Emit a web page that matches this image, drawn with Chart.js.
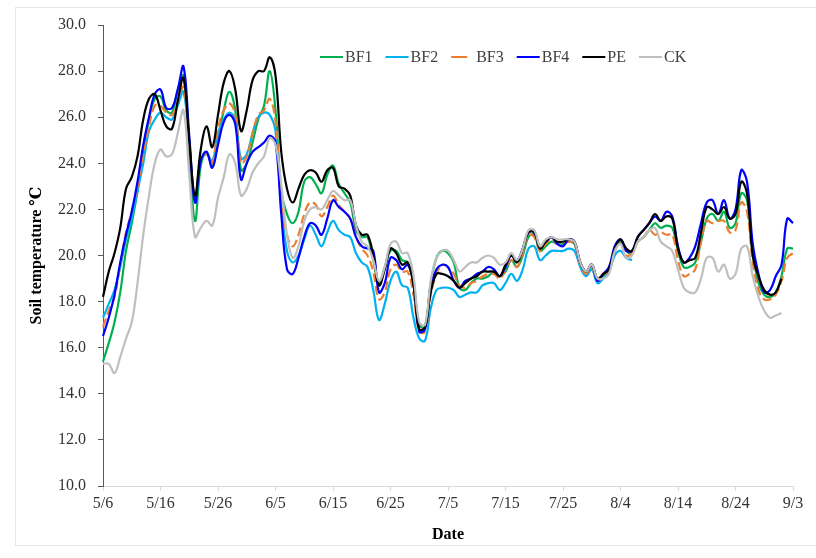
<!DOCTYPE html>
<html>
<head>
<meta charset="utf-8">
<script src="https://cdn.jsdelivr.net/npm/chart.js@4.4.0/dist/chart.umd.min.js"></script>
<style>
  html, body { margin: 0; padding: 0; background: #fff; }
  #wrap { position: relative; width: 816px; height: 558px; }
</style>
</head>
<body>
<div id="wrap"><canvas id="chart"></canvas></div>
<script>
// daily categories 5/6 .. 9/3
const dates = [];
for (let d = new Date(2020, 4, 6); d <= new Date(2020, 8, 3); d.setDate(d.getDate() + 1)) {
  dates.push((d.getMonth() + 1) + '/' + d.getDate());
}

const seriesNames = ['BF1', 'BF2', 'BF3', 'BF4', 'PE', 'CK'];
const seriesColors = ['#00B050', '#00B0F0', '#ED7D31', '#0000FF', '#000000', '#BFBFBF'];

const bf1 = [15.4,16.2,17.1,18.4,20.2,21.4,22.8,24.4,25.9,26.8,
  26.9,26.3,26.2,27.2,27.8,24.5,21.5,23.9,24.5,23.9,
  25.0,26.3,27.1,26.3,23.7,24.0,24.9,25.9,26.5,28.0,
  26.3,22.8,21.8,21.4,21.9,23.2,23.4,23.1,22.7,23.5,
  23.9,23.1,22.7,22.3,21.1,20.8,20.8,19.8,18.8,19.5,
  20.2,20.2,19.8,19.7,18.8,17.0,16.9,18.8,19.9,20.2,
  20.1,19.7,18.6,18.5,18.8,19.0,19.0,19.1,19.3,19.1,
  19.3,19.8,19.5,20.0,20.8,20.9,20.2,20.4,20.6,20.5,
  20.5,20.6,20.5,19.6,19.2,19.6,19.0,19.1,19.4,20.2,
  20.6,20.2,20.1,20.6,20.8,21.1,21.4,21.2,21.3,21.2,
  20.2,19.5,19.5,19.7,20.6,21.6,21.8,21.5,21.9,21.2,
  21.4,22.7,22.4,20.1,18.8,18.3,18.2,18.4,19.1,20.3,20.3];

const bf2 = [17.3,17.9,18.5,19.5,20.7,21.6,22.8,24.0,25.4,25.9,
  26.2,26.0,25.9,26.5,27.1,24.8,22.5,24.1,24.4,24.1,
  25.3,25.9,26.2,25.9,24.2,24.4,25.3,26.0,26.2,26.1,
  25.4,22.2,20.2,19.7,20.0,20.7,21.3,20.9,20.4,21.0,
  21.5,21.1,20.9,20.8,20.1,19.7,19.5,18.5,17.2,17.9,
  18.9,19.3,18.7,18.6,17.3,16.4,16.3,17.7,18.5,18.6,
  18.6,18.5,18.2,18.3,18.4,18.4,18.7,18.8,18.8,18.5,
  18.8,19.2,18.9,19.4,20.3,20.4,19.8,20.0,20.2,20.2,
  20.2,20.3,20.2,19.5,19.1,19.4,18.8,19.0,19.3,20.0,
  20.2,19.9,19.8,null,null,null,null,null,null,null,
  null,null,null,null,null,null,null,null,null,null,
  null,null,null,null,null,null,null,null,null,null,null];

const bf3 = [16.9,17.6,18.2,19.6,21.0,21.9,23.0,24.3,25.6,26.5,
  26.5,26.2,26.1,26.7,27.3,24.8,22.4,24.2,24.4,24.0,
  25.5,26.3,26.6,26.1,24.0,24.3,25.3,26.1,26.3,26.8,
  25.8,22.6,20.9,20.4,20.9,21.8,22.3,22.2,21.7,22.1,
  22.6,22.2,21.9,21.6,20.8,20.3,20.0,19.3,18.1,18.4,
  19.4,19.6,19.3,19.3,18.3,16.7,16.7,18.3,19.2,19.6,
  19.5,19.2,18.7,18.6,18.8,18.9,19.1,19.2,19.2,19.0,
  19.4,19.8,19.5,20.1,20.9,20.8,20.2,20.5,20.7,20.5,
  20.5,20.6,20.5,19.6,19.2,19.5,18.9,19.1,19.4,20.2,
  20.6,20.0,20.1,20.6,20.8,21.1,20.9,21.0,20.9,20.9,
  19.8,19.1,19.2,19.4,20.6,21.5,21.4,21.5,21.5,21.0,
  21.1,22.3,21.9,19.7,18.5,18.1,18.1,18.3,18.9,19.9,20.1];

const bf4 = [16.5,17.3,18.3,19.7,20.9,21.9,23.2,24.8,26.0,27.0,
  27.2,26.4,26.4,27.2,28.2,25.2,22.3,24.1,24.5,23.8,
  24.8,25.8,26.1,25.7,23.3,24.0,24.5,24.7,24.9,25.2,
  24.9,21.8,19.4,19.2,19.9,20.8,21.4,21.3,20.9,21.6,
  22.4,22.1,21.9,21.6,20.8,20.4,20.3,20.2,18.4,18.8,
  19.9,19.8,19.4,19.6,18.8,16.7,16.8,18.7,19.4,19.6,
  19.5,18.9,18.6,18.9,19.0,19.2,19.3,19.5,19.4,19.1,
  19.5,20.0,19.8,20.3,21.0,21.0,20.4,20.6,20.8,20.5,
  20.4,20.7,20.6,19.7,19.3,19.6,18.9,19.2,19.5,20.4,
  20.7,20.2,20.2,20.8,21.1,21.4,21.7,21.5,21.9,21.7,
  20.4,19.7,19.9,20.4,21.4,22.3,22.4,21.8,22.4,21.6,
  22.0,23.7,23.2,20.5,19.2,18.4,18.5,19.1,19.6,21.6,21.4];

const pe = [18.2,19.3,20.1,21.2,22.9,23.4,24.3,25.9,26.8,27.0,
  26.3,25.6,25.5,26.7,27.7,25.0,22.6,24.6,25.6,24.7,
  26.1,27.5,28.0,27.2,25.4,26.3,27.6,28.0,28.0,28.6,
  27.8,24.5,22.9,22.3,22.9,23.5,23.7,23.6,23.2,23.7,
  23.8,23.0,22.9,22.6,21.3,20.9,20.9,20.0,18.7,19.4,
  20.3,20.1,19.6,19.7,18.7,16.8,16.9,18.4,19.2,19.2,
  19.1,18.9,18.6,18.8,19.0,19.1,19.3,19.3,19.3,19.1,
  19.6,20.0,19.7,20.3,21.0,21.0,20.3,20.6,20.8,20.6,
  20.6,20.7,20.6,19.7,19.3,19.6,19.0,19.2,19.4,20.3,
  20.7,20.3,20.2,20.8,21.1,21.4,21.8,21.5,21.7,21.6,
  20.3,19.7,19.8,19.9,21.0,22.1,22.0,21.8,22.1,21.6,
  21.8,23.2,22.7,20.0,19.1,18.5,18.3,18.4,19.0,null,null];

const ck = [15.3,15.3,14.9,15.6,16.4,17.1,18.8,20.9,22.6,24.0,
  24.6,24.3,24.4,25.3,26.3,23.5,20.8,21.2,21.5,21.3,
  22.5,23.4,24.4,24.0,22.6,22.9,23.6,24.0,24.3,25.1,
  24.8,23.1,20.9,19.9,20.4,21.5,22.0,22.1,22.0,22.4,
  22.8,22.6,22.4,22.4,21.3,20.6,20.4,19.8,18.9,19.5,
  20.5,20.6,20.1,20.1,19.1,17.1,17.0,18.9,19.9,20.2,
  20.2,19.8,19.3,19.5,19.7,19.7,19.9,20.0,19.9,19.6,
  19.7,20.1,19.8,20.3,21.1,21.1,20.4,20.7,20.8,20.7,
  20.7,20.7,20.6,19.7,19.3,19.6,19.0,19.0,19.2,20.2,
  20.5,19.9,20.0,20.6,20.8,21.1,21.2,20.6,20.4,20.2,
  19.4,18.6,18.4,18.4,19.0,19.9,19.9,19.3,19.6,19.0,
  19.2,20.3,20.4,19.1,18.2,17.6,17.3,17.4,17.5,null,null];

const seriesData = [bf1, bf2, bf3, bf4, pe, ck];

const SERIF = '"Liberation Serif", "DejaVu Serif", serif';

// legend drawn inside the plot, as in the original figure
const lineLegend = {
  id: 'lineLegend',
  afterDraw(chart) {
    const ctx = chart.ctx;
    let x = 320;
    const y = 57;
    ctx.save();
    ctx.font = '16px ' + SERIF;
    ctx.textBaseline = 'middle';
    chart.data.datasets.forEach(ds => {
      ctx.strokeStyle = ds.borderColor;
      ctx.lineWidth = 2;
      ctx.setLineDash(ds.borderDash ? [16, 40] : []);
      ctx.beginPath();
      ctx.moveTo(x, y);
      ctx.lineTo(x + 23, y);
      ctx.stroke();
      ctx.setLineDash([]);
      ctx.fillStyle = '#404040';
      ctx.fillText(ds.label, x + 25, y + 1);
      x += 25 + ctx.measureText(ds.label).width + 13;
    });
    ctx.restore();
  }
};

const frame = {
  id: 'frame',
  beforeDraw(chart) {
    const ctx = chart.ctx;
    ctx.save();
    ctx.strokeStyle = '#E6E6E6';
    ctx.lineWidth = 1;
    ctx.strokeRect(15.5, 7.5, 830, 538);
    ctx.restore();
  }
};

const ctx = document.getElementById('chart').getContext('2d');
new Chart(ctx, {
  type: 'line',
  data: {
    labels: dates,
    datasets: seriesNames.map((name, i) => ({
      label: name,
      data: seriesData[i],
      borderColor: seriesColors[i],
      backgroundColor: seriesColors[i],
      borderWidth: 2.2,
      borderDash: name === 'BF3' ? [9, 4] : undefined,
      pointRadius: 0,
      tension: 0.4,
      fill: false,
      order: seriesNames.length - 1 - i
    }))
  },
  options: {
    responsive: true,
    maintainAspectRatio: false,
    animation: false,
    devicePixelRatio: 1,
    layout: { padding: { top: 25, right: 23, left: 0, bottom: 0 } },
    plugins: {
      legend: { display: false },
      tooltip: { enabled: false }
    },
    scales: {
      x: {
        type: 'category',
        offset: false,
        afterFit: (scale) => { scale.height = 72; },
        grid: {
          display: true,
          drawOnChartArea: false,
          drawTicks: true,
          tickLength: 5,
          color: '#D9D9D9'
        },
        border: { display: true, color: '#D9D9D9', width: 1 },
        ticks: {
          autoSkip: false,
          maxRotation: 0,
          padding: 3,
          color: '#333333',
          font: { family: SERIF, size: 16 },
          callback: function (value, index) {
            return index % 10 === 0 ? this.getLabelForValue(value) : null;
          }
        },
        title: {
          display: true,
          text: 'Date',
          color: '#000000',
          font: { family: SERIF, size: 16, weight: 'bold' },
          padding: { top: 0, bottom: 14 }
        }
      },
      y: {
        min: 10,
        max: 30,
        afterFit: (scale) => { scale.width = 103; },
        grid: {
          display: true,
          drawOnChartArea: false,
          drawTicks: true,
          tickLength: 5,
          color: '#595959'
        },
        border: { display: true, color: '#595959', width: 1 },
        ticks: {
          stepSize: 2,
          padding: 12,
          color: '#333333',
          font: { family: SERIF, size: 16 },
          callback: (v) => v.toFixed(1)
        },
        title: {
          display: true,
          text: 'Soil temperature ℃',
          color: '#000000',
          font: { family: SERIF, size: 16, weight: 'bold' },
          padding: { top: 27, bottom: 0 }
        }
      }
    }
  },
  plugins: [frame, lineLegend]
});
</script>
</body>
</html>
